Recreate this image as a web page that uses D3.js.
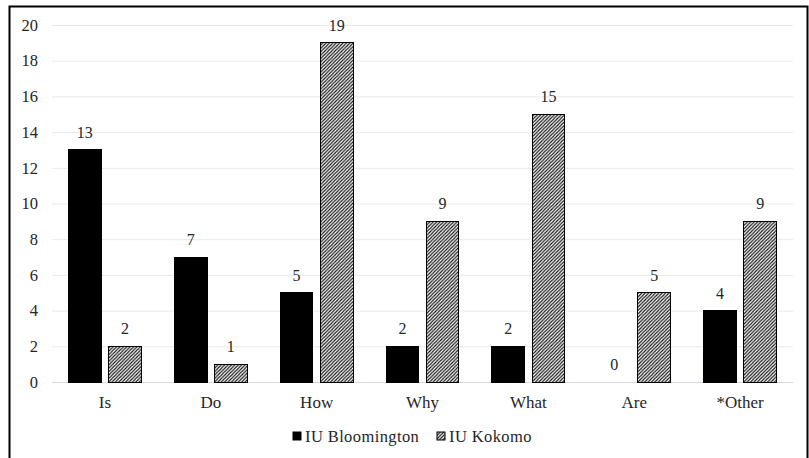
<!DOCTYPE html>
<html>
<head>
<meta charset="utf-8">
<script src="https://cdn.jsdelivr.net/npm/d3@7"></script>
<style>
  html, body { margin: 0; padding: 0; background: #fff; }
  svg { display: block; }
  svg text { font-family: "Liberation Serif", "Times New Roman", "DejaVu Serif", serif; }
</style>
</head>
<body>
<svg id="chart" width="809" height="458"></svg>
<script>
// Question words asked, by campus
const categories = ["Is", "Do", "How", "Why", "What", "Are", "*Other"];
const seriesNames = ["IU Bloomington", "IU Kokomo"];
const bloomington = [13, 7, 5, 2, 2, 0, 4];
const kokomo = [2, 1, 19, 9, 15, 5, 9];
const yTicks = [0, 2, 4, 6, 8, 10, 12, 14, 16, 18, 20];

const seriesValues = [bloomington, kokomo];
const rows = categories.map((c, i) => ({
  category: c,
  values: seriesNames.map((s, k) => ({ series: s, value: seriesValues[k][i] }))
}));

const svg = d3.select("#chart");
const plot = { left: 52, right: 793, top: 25, bottom: 382 };
const textColor = "#262626";

// Fine diagonal hatching used for the second series
const defs = svg.append("defs");
const T = 3.4;
const pat = defs.append("pattern")
  .attr("id", "hatch")
  .attr("patternUnits", "userSpaceOnUse")
  .attr("width", T).attr("height", T);
pat.append("rect").attr("width", T).attr("height", T).attr("fill", "#fff");
pat.append("path")
  .attr("d", `M${-T / 2},${T / 2} L${T / 2},${-T / 2} M0,${T} L${T},0 M${T / 2},${T * 1.5} L${T * 1.5},${T / 2}`)
  .attr("stroke", "#111").attr("stroke-width", 1.15);

// Outer frame
svg.append("rect")
  .attr("x", 9.5).attr("y", 6.5)
  .attr("width", 798).attr("height", 470)
  .attr("fill", "none").attr("stroke", "#000").attr("stroke-width", 2);

const y = d3.scaleLinear().domain([0, 20]).range([plot.bottom, plot.top]);
const x0 = d3.scaleBand().domain(categories).range([plot.left, plot.right]).padding(0);
const inset = 16.5;
const x1 = d3.scaleBand().domain(seriesNames)
  .range([inset, x0.bandwidth() - inset])
  .paddingInner(0.185).paddingOuter(0);

const fill = d3.scaleOrdinal().domain(seriesNames).range(["#000", "url(#hatch)"]);

// Gridlines and value axis
const yAxis = d3.axisLeft(y).tickValues(yTicks).tickSize(-(plot.right - plot.left)).tickPadding(14);
const gy = svg.append("g").attr("transform", `translate(${plot.left},0)`).call(yAxis);
gy.attr("font-family", null);
gy.select(".domain").remove();
gy.selectAll(".tick line").attr("stroke", "#e8e8e8").attr("stroke-width", 1);
gy.selectAll(".tick text").attr("fill", textColor).attr("font-size", 16.5);
gy.selectAll(".tick").filter(d => d === 0).select("line").attr("stroke", "#d4d9e0");

// Category axis
const xAxis = d3.axisBottom(x0).tickSize(0).tickPadding(14);
const gx = svg.append("g").attr("transform", `translate(0,${plot.bottom})`).call(xAxis);
gx.attr("font-family", null);
gx.select(".domain").remove();
gx.selectAll(".tick text").attr("fill", textColor).attr("font-size", 17);

// Bars
const groups = svg.append("g").selectAll("g")
  .data(rows).join("g")
  .attr("transform", d => `translate(${x0(d.category)},0)`);

groups.selectAll("rect")
  .data(d => d.values).join("rect")
  .attr("x", d => x1(d.series))
  .attr("width", x1.bandwidth())
  .attr("y", d => y(d.value))
  .attr("height", d => y(0) - y(d.value))
  .attr("fill", d => fill(d.series))
  .attr("stroke", d => d.value > 0 ? "#000" : "none")
  .attr("stroke-width", 1)
  .attr("shape-rendering", "crispEdges");

// Value labels
groups.selectAll("text.val")
  .data(d => d.values).join("text")
  .attr("class", "val")
  .attr("x", d => x1(d.series) + x1.bandwidth() / 2)
  .attr("y", d => y(d.value) - 12)
  .attr("text-anchor", "middle")
  .attr("font-size", 16)
  .attr("fill", textColor)
  .text(d => d.value);

// Legend
const legendItems = [
  { name: seriesNames[0], x: 293 },
  { name: seriesNames[1], x: 437 }
];
const lg = svg.append("g").selectAll("g").data(legendItems).join("g")
  .attr("transform", d => `translate(${d.x},432)`);
lg.append("rect")
  .attr("width", 8).attr("height", 8)
  .attr("fill", d => fill(d.name))
  .attr("stroke", "#000").attr("stroke-width", 1);
lg.append("text")
  .attr("x", 12).attr("y", 9.5)
  .attr("font-size", 16.5).attr("fill", textColor)
  .attr("letter-spacing", 0.4)
  .text(d => d.name);
</script>
</body>
</html>
